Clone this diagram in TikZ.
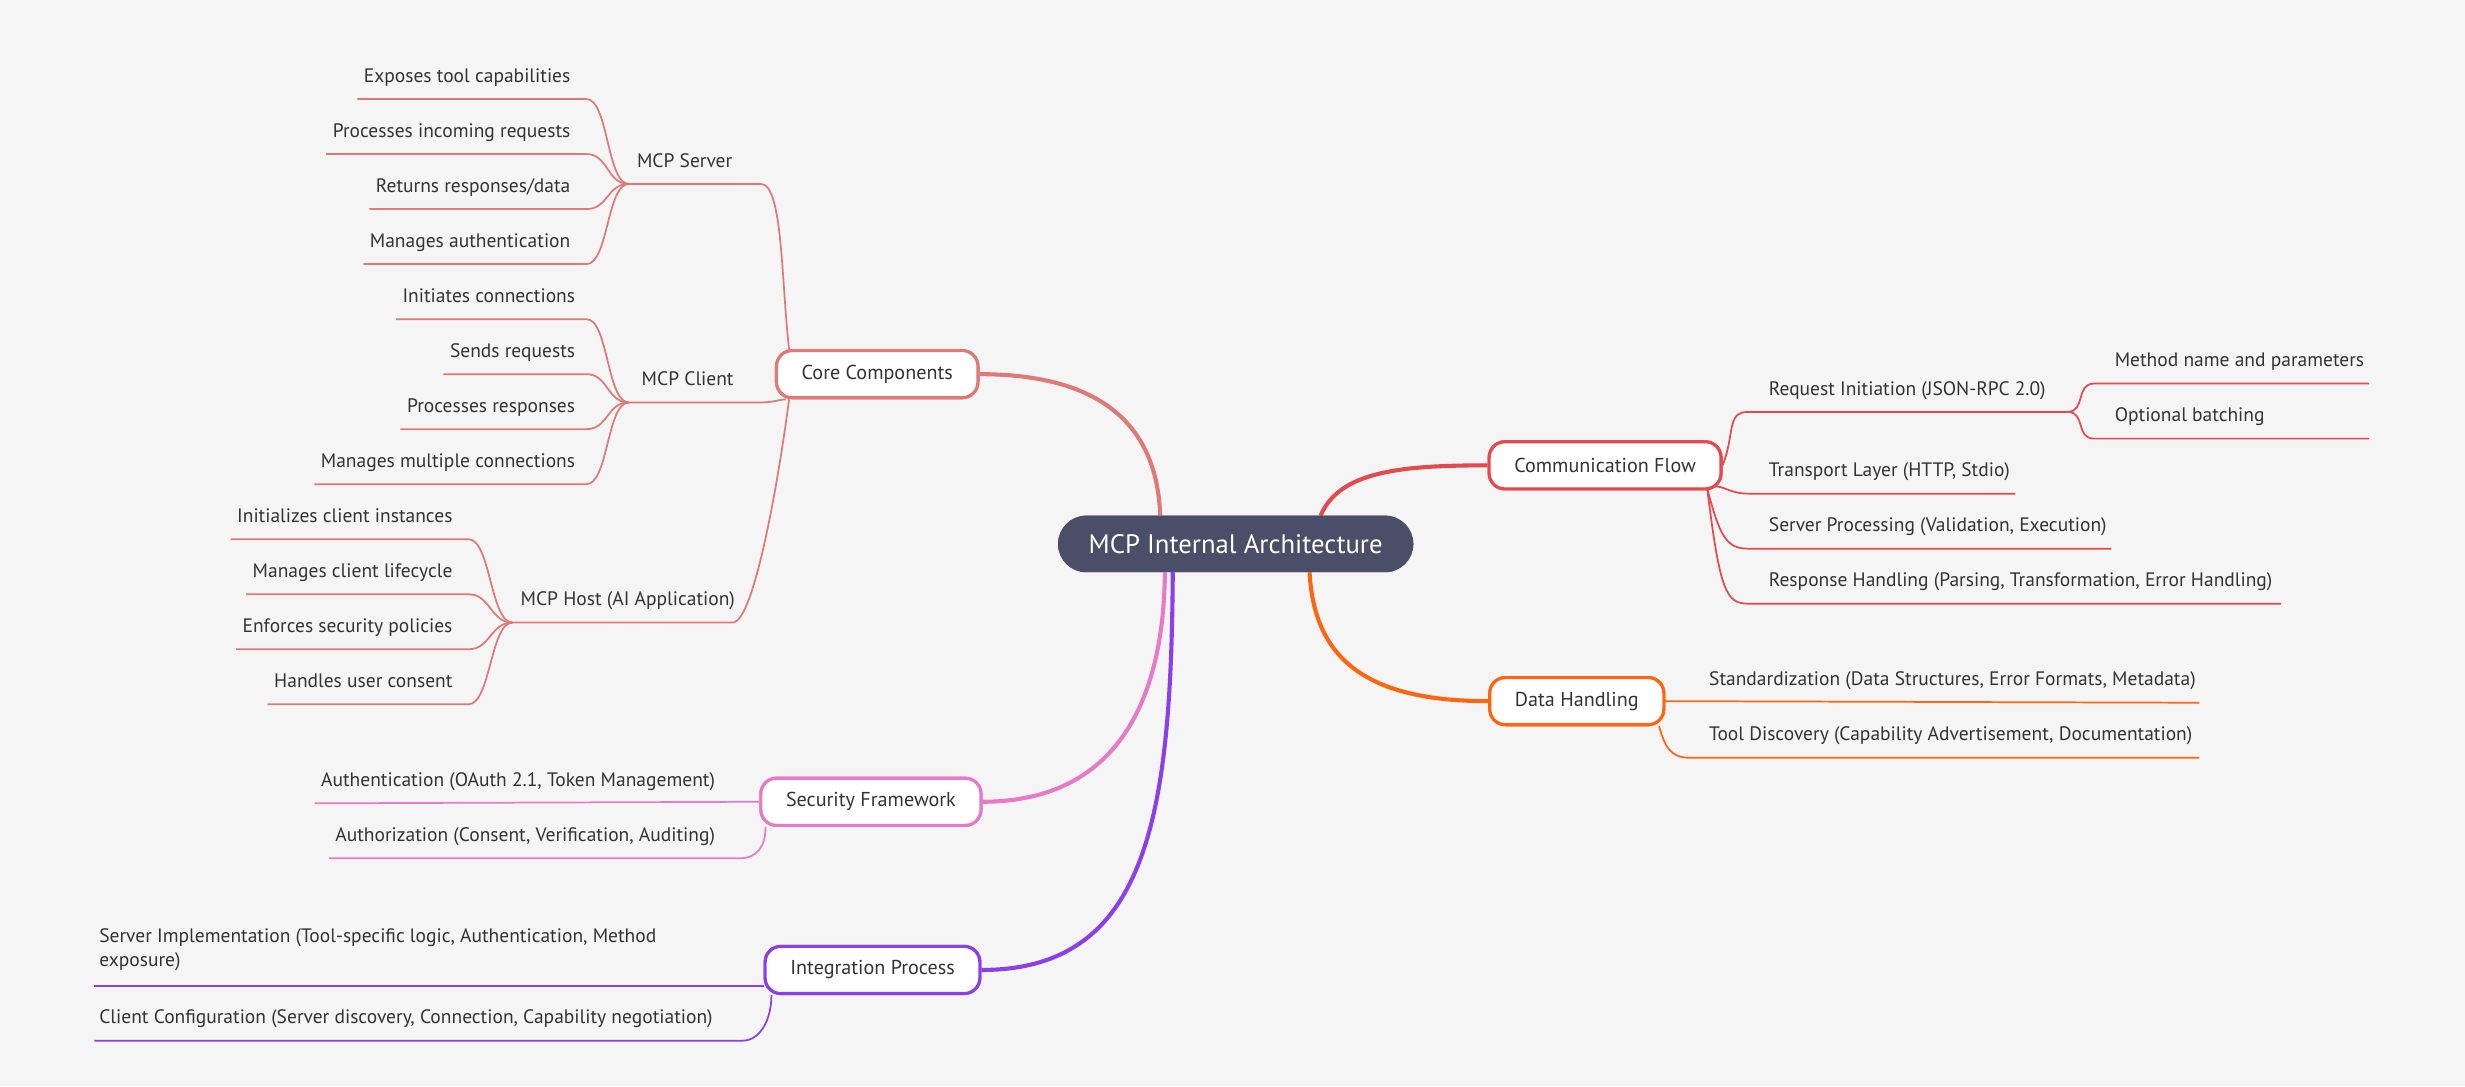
\documentclass[tikz,border=0pt]{standalone}
\usepackage{fontspec}
\setmainfont{PT Sans}
\definecolor{bg}{HTML}{F5F5F5}
\definecolor{txt}{HTML}{333333}
\definecolor{cc}{HTML}{E07878}
\definecolor{cm}{HTML}{E5484D}
\definecolor{cd}{HTML}{FF6510}
\definecolor{cs}{HTML}{E879C9}
\definecolor{ci}{HTML}{8A3FE8}
\definecolor{rootc}{HTML}{4A4E69}
\begin{document}
\begin{tikzpicture}[x=1pt,y=-1pt,
 leaf/.style={inner sep=0pt,text depth=10.5pt,font=\fontsize{12.4}{15}\selectfont,text=txt},
 box/.style={draw=#1,line width=2pt,fill=white,rounded corners=10pt,minimum height=30pt,inner xsep=16pt,font=\fontsize{12.8}{15}\selectfont,text=txt},
 rootbox/.style={fill=rootc,rounded corners=18pt,minimum width=226pt,minimum height=36pt,text=white,font=\fontsize{17}{19}\selectfont},
 lk/.style={draw=#1,line width=1.1pt},
 mk/.style={draw=#1,line width=2.6pt}]
\useasboundingbox[fill=bg] (0,0) rectangle (1568,691);
% main nodes
\node[rootbox] (root) at (786,346) {MCP Internal Architecture};
\node[box=cc] (core) at (558,238) {Core Components};
\node[box=cm] (comm) at (1021,296) {Communication Flow};
\node[box=cd] (data) at (1003,446) {Data Handling};
\node[box=cs] (sec) at (554,510) {Security Framework};
\node[box=ci] (int) at (555,617) {Integration Process};
\coordinate (r1) at (738,328); \coordinate (r2) at (840,328);
\coordinate (r3) at (833,364); \coordinate (r4) at (741,364); \coordinate (r5) at (746,364);
\draw[mk=cc] (r1) .. controls (736,270) and (700,238) .. (core.east);
\draw[mk=cm] (r2) .. controls (852,300) and (890,296) .. (comm.west);
\draw[mk=cd] (r3) .. controls (836,420) and (870,446) .. (data.west);
\draw[mk=cs] (r4) .. controls (740,460) and (700,510) .. (sec.east);
\draw[mk=ci] (r5) .. controls (745,520) and (730,617) .. (int.east);
% redraw boxes on top
\node[box=cc] at (core) {Core Components};
\node[box=cm] at (comm) {Communication Flow};
\node[box=cd] at (data) {Data Handling};
\node[box=cs] at (sec) {Security Framework};
\node[box=ci] at (int) {Integration Process};
\node[rootbox] at (root) {MCP Internal Architecture};
% Core sub-branches
\coordinate (jS) at (400,117); \coordinate (jC) at (400,256); \coordinate (jH) at (326,396);
\node[leaf,anchor=south west] (ms) at (405,117) {MCP Server};
\node[leaf,anchor=south west] (mc) at (408,256) {MCP Client};
\node[leaf,anchor=south west] (mh) at (331,396) {MCP Host (AI Application)};
\draw[lk=cc] (jS) -- (484,117) .. controls (498,117) and (497,180) .. ([xshift=9pt]core.north west);
\draw[lk=cc] (jC) -- (484,256) .. controls (492,256) and (496,254) .. ([xshift=7pt]core.south west);
\draw[lk=cc] (jH) -- (466,396) .. controls (480,396) and (496,300) .. ([xshift=9pt]core.south west);
\foreach \t/\y [count=\i] in {{Exposes tool capabilities}/63,{Processes incoming requests}/98,{Returns responses/data}/133,{Manages authentication}/168}{
 \node[leaf,anchor=south east] (s\i) at (363,\y) {\t};
 \draw[lk=cc] ([xshift=-4pt]s\i.south west) -- ([xshift=10pt]s\i.south east) .. controls +(14,0) and +(-14,0) .. (jS);}
\foreach \t/\y [count=\i] in {{Initiates connections}/203,{Sends requests}/238,{Processes responses}/273,{Manages multiple connections}/308}{
 \node[leaf,anchor=south east] (c\i) at (366,\y) {\t};
 \draw[lk=cc] ([xshift=-4pt]c\i.south west) -- ([xshift=7pt]c\i.south east) .. controls +(14,0) and +(-14,0) .. (jC);}
\foreach \t/\y [count=\i] in {{Initializes client instances}/343,{Manages client lifecycle}/378,{Enforces security policies}/413,{Handles user consent}/448}{
 \node[leaf,anchor=south east] (h\i) at (288,\y) {\t};
 \draw[lk=cc] ([xshift=-4pt]h\i.south west) -- ([xshift=10pt]h\i.south east) .. controls +(14,0) and +(-14,0) .. (jH);}
% Communication flow
\coordinate (cF) at (1086,311);
\node[leaf,anchor=south west] (q1) at (1125,262) {Request Initiation (JSON-RPC 2.0)};
\draw[lk=cm] (comm.east) .. controls +(8,-20) and +(-14,0) .. (1112,262) -- (1315,262);
\coordinate (jR) at (1315,262);
\node[leaf,anchor=south west] (m1) at (1345,244) {Method name and parameters};
\node[leaf,anchor=south west] (m2) at (1345,279) {Optional batching};
\draw[lk=cm] (jR) .. controls +(12,0) and +(-12,0) .. (1332,244) -- (1507,244);
\draw[lk=cm] (jR) .. controls +(12,0) and +(-12,0) .. (1332,279) -- (1507,279);
\foreach \t/\y/\e [count=\i] in {{Transport Layer (HTTP, Stdio)}/314/1282,{Server Processing (Validation, Execution)}/349/1343,{Response Handling (Parsing, Transformation, Error Handling)}/384/1451}{
 \node[leaf,anchor=south west] (q\i x) at (1125,\y) {\t};
 \draw[lk=cm] (cF) .. controls (1094,\y-8) and (1098,\y) .. (1112,\y) -- (\e,\y);}
% Data handling
\node[leaf,anchor=south west] (d1) at (1087,447) {Standardization (Data Structures, Error Formats, Metadata)};
\node[leaf,anchor=south west] (d2) at (1087,482) {Tool Discovery (Capability Advertisement, Documentation)};
\draw[lk=cd] (data.east) -- (1399,447);
\draw[lk=cd] ([xshift=-4pt]data.south east) .. controls +(4,14) and +(-12,0) .. (1075,482) -- (1399,482);
% Security
\node[leaf,anchor=south east] (a1) at (455,511) {Authentication (OAuth 2.1, Token Management)};
\node[leaf,anchor=south east] (a2) at (455,546) {Authorization (Consent, Verification, Auditing)};
\draw[lk=cs] ([xshift=-4pt]a1.south west) -- (sec.west);
\draw[lk=cs] ([xshift=-4pt]a2.south west) -- (470,546) .. controls +(12,0) and +(0,12) .. ([xshift=4pt]sec.south west);
% Integration
\node[leaf,anchor=south west,align=left,text depth=12pt] (i1) at (63,627) {Server Implementation (Tool-specific logic, Authentication, Method\\exposure)};
\node[leaf,anchor=south west] (i2) at (63,662) {Client Configuration (Server discovery, Connection, Capability negotiation)};
\draw[lk=ci] ([xshift=-3pt]i1.south west) -- (486,627);
\draw[lk=ci] ([xshift=-3pt]i2.south west) -- (472,662) .. controls +(12,0) and +(0,15) .. ([xshift=5pt]int.south west);
\end{tikzpicture}
\end{document}
